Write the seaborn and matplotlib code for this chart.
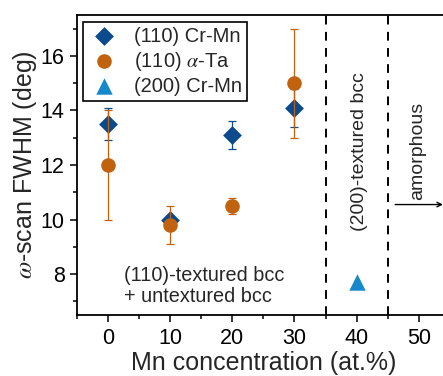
import matplotlib
matplotlib.use("Agg")
import matplotlib.pyplot as plt
import seaborn as sns
import pandas as pd

sns.set_theme(style="ticks")
plt.rcParams['font.family'] = ['Liberation Sans', 'DejaVu Sans']
plt.rcParams['mathtext.fontset'] = 'stix'

# ---- data ----
crmn110_x = [0, 10, 20, 30]
crmn110_y = [13.5, 10.0, 13.1, 14.1]
crmn110_err = [0.6, 0.0, 0.5, 0.7]

ta110_x = [0, 10, 20, 30]
ta110_y = [12.0, 9.8, 10.5, 15.0]
ta110_err = [2.0, 0.7, 0.3, 2.0]

crmn200_x = [40]
crmn200_y = [7.7]

labels = ["(110) Cr-Mn", r"(110) $\alpha$-Ta", "(200) Cr-Mn"]
boundaries = [35, 45]
x_ticks = [0, 10, 20, 30, 40, 50]
y_ticks = [8, 10, 12, 14, 16]

c_dark = '#0b4a8c'
c_orange = '#c0620e'
c_light = '#1688cc'

fig = plt.figure(figsize=(4.43, 3.76), dpi=100)
W, H = 443, 376
left, right, top, bottom = 77, 449.8, 15, 315
ax = fig.add_axes([left / W, 1 - bottom / H, (right - left) / W, (bottom - top) / H])

df1 = pd.DataFrame({"x": crmn110_x, "y": crmn110_y})
df2 = pd.DataFrame({"x": ta110_x, "y": ta110_y})
df3 = pd.DataFrame({"x": crmn200_x, "y": crmn200_y})

ax.errorbar(crmn110_x, crmn110_y, yerr=crmn110_err, fmt='none', ecolor=c_dark,
            elinewidth=0.9, capsize=3, capthick=0.9, zorder=2)
sns.scatterplot(data=df1, x="x", y="y", marker='D', s=92, color=c_dark,
                linewidth=0, ax=ax, zorder=3, label=labels[0])
ax.errorbar(ta110_x, ta110_y, yerr=ta110_err, fmt='none', ecolor=c_orange,
            elinewidth=0.9, capsize=3, capthick=0.9, zorder=4)
sns.scatterplot(data=df2, x="x", y="y", marker='o', s=110, color=c_orange,
                linewidth=0, ax=ax, zorder=5, label=labels[1])
sns.scatterplot(data=df3, x="x", y="y", marker='^', s=140, color=c_light,
                linewidth=0, ax=ax, zorder=5, label=labels[2])

for b in boundaries:
    ax.axvline(b, color='black', linestyle=(0, (4.5, 3.8)), linewidth=1.4, zorder=1)

ax.text(2.5, 7.55, "(110)-textured bcc\n+ untextured bcc", fontsize=14.3,
        ha='left', va='center', linespacing=1.15)
ax.text(40.4, 12.5, "(200)-textured bcc", fontsize=14, rotation=90,
        ha='center', va='center')
ax.text(49.8, 10.7, "amorphous", fontsize=14, rotation=90,
        ha='center', va='bottom')
ax.annotate("", xy=(53.9, 10.55), xytext=(46.2, 10.55),
            arrowprops=dict(arrowstyle='->', color='black', lw=1.0,
                            mutation_scale=8, shrinkA=0, shrinkB=0))

ax.set_xlim(-5, 55)
ax.set_ylim(6.5, 17.5)
ax.set_xticks(x_ticks)
ax.set_yticks(y_ticks)
ax.set_xticks([-5, 5, 15, 25, 35, 45], minor=True)
ax.set_yticks([7, 9, 11, 13, 15, 17], minor=True)
ax.tick_params(axis='both', which='major', direction='out', length=5, width=1.1,
               labelsize=15.5, color='black', labelcolor='black', pad=4)
ax.tick_params(axis='both', which='minor', direction='out', length=3, width=1.1,
               color='black')
ax.tick_params(top=False, right=False, which='both')

for side in ['left', 'bottom', 'top']:
    ax.spines[side].set_linewidth(1.3)
    ax.spines[side].set_color('black')
ax.spines['right'].set_visible(False)

ax.set_xlabel("Mn concentration (at.%)", fontsize=18, labelpad=2)
ax.set_ylabel(r"$\omega$-scan FWHM (deg)", fontsize=18, labelpad=1)

leg = ax.legend(loc='upper left', bbox_to_anchor=(0.016, 0.978), borderaxespad=0,
                fontsize=14.5, frameon=True, fancybox=False, edgecolor='black',
                framealpha=1, handletextpad=0.7, labelspacing=0.2,
                borderpad=0.25, handlelength=1.6)
leg.get_frame().set_linewidth(1.2)

fig.savefig("out.png", dpi=100)
